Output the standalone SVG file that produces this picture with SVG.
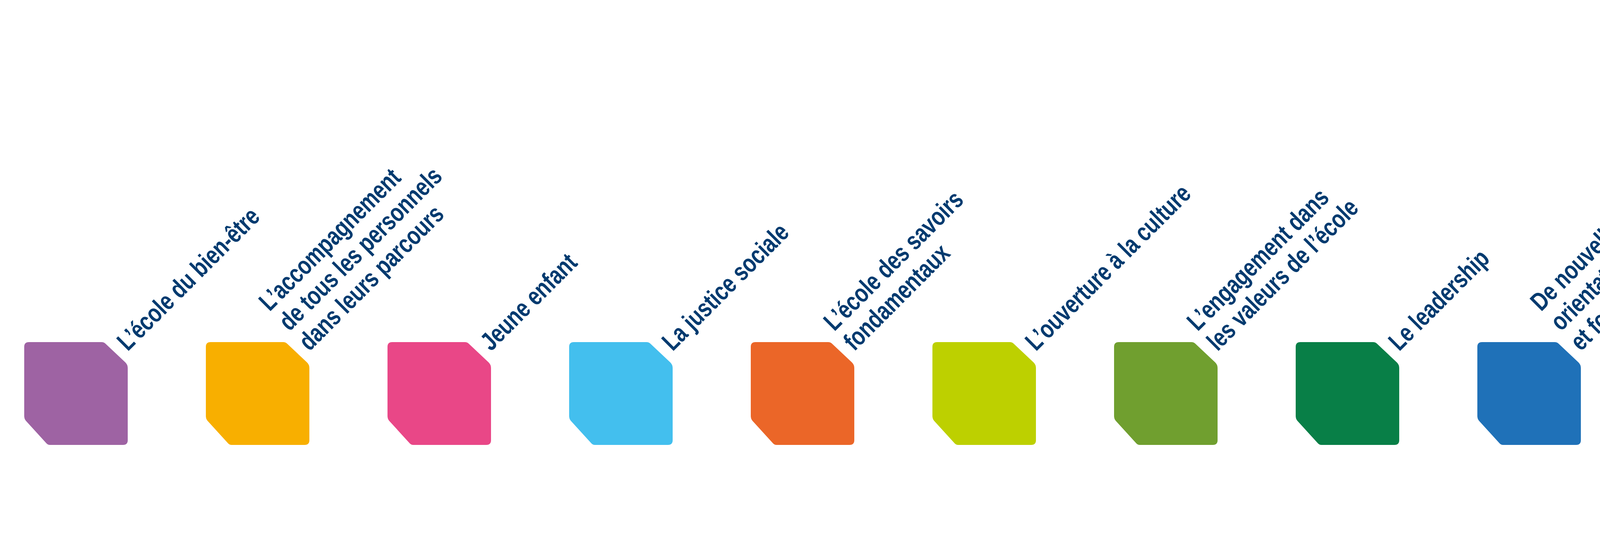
<svg xmlns="http://www.w3.org/2000/svg" xmlns:xlink="http://www.w3.org/1999/xlink" width="4961" height="1417" viewBox="0 0 4961 1417">
<style>
text{font-family:"Liberation Sans",Arial,sans-serif;font-weight:bold;font-size:66px;fill:#003A6F}
</style>
<defs>
<path id="box" d="M0,12 Q0,0 12,0 H198 Q204,0 208,4 L259,52 Q265,58 265,66 V251 Q265,263 253,263 H66 Q60,263 56,258 L4,201 Q0,196 0,189 Z"/>
</defs>
<rect width="4961" height="1417" fill="#fff"/>
<g id="n1"><use xlink:href="#box" x="62" y="875" fill="#9E63A3"/><text transform="translate(327,900) rotate(-45) scale(0.78,1)">L’école du bien-être</text></g>
<g id="n2"><use xlink:href="#box" x="527" y="875" fill="#F8AF00"/><text transform="translate(792,900) rotate(-45) scale(0.78,1)"><tspan x="0" y="-144">L’accompagnement</tspan><tspan x="0" y="-72">de tous les personnels</tspan><tspan x="0" y="0">dans leurs parcours</tspan></text></g>
<g id="n3"><use xlink:href="#box" x="992" y="875" fill="#E94787"/><text transform="translate(1257,900) rotate(-45) scale(0.78,1)">Jeune enfant</text></g>
<g id="n4"><use xlink:href="#box" x="1457" y="875" fill="#43BFEE"/><text transform="translate(1722,900) rotate(-45) scale(0.78,1)">La justice sociale</text></g>
<g id="n5"><use xlink:href="#box" x="1922" y="875" fill="#EB6628"/><text transform="translate(2187,900) rotate(-45) scale(0.78,1)"><tspan x="0" y="-72">L’école des savoirs</tspan><tspan x="0" y="0">fondamentaux</tspan></text></g>
<g id="n6"><use xlink:href="#box" x="2387" y="875" fill="#BDD000"/><text transform="translate(2652,900) rotate(-45) scale(0.78,1)">L’ouverture à la culture</text></g>
<g id="n7"><use xlink:href="#box" x="2852" y="875" fill="#709F2F"/><text transform="translate(3117,900) rotate(-45) scale(0.78,1)"><tspan x="0" y="-72">L’engagement dans</tspan><tspan x="0" y="0">les valeurs de l’école</tspan></text></g>
<g id="n8"><use xlink:href="#box" x="3317" y="875" fill="#087F47"/><text transform="translate(3582,900) rotate(-45) scale(0.78,1)">Le leadership</text></g>
<g id="n9"><use xlink:href="#box" x="3782" y="875" fill="#1F71B8"/><text transform="translate(4047,900) rotate(-45) scale(0.78,1)"><tspan x="0" y="-144">De nouvelles alliances :</tspan><tspan x="0" y="-72">orientation, persévérance scolaire</tspan><tspan x="0" y="0">et formation professionnelle</tspan></text></g>
<g id="n10"><use xlink:href="#box" x="4247" y="875" fill="#F08700"/><text transform="translate(4512,900) rotate(-45) scale(0.78,1)"><tspan x="0" y="-72">La transformation</tspan><tspan x="0" y="0">du service public</tspan></text></g>
<g id="connectors"/>
</svg>
